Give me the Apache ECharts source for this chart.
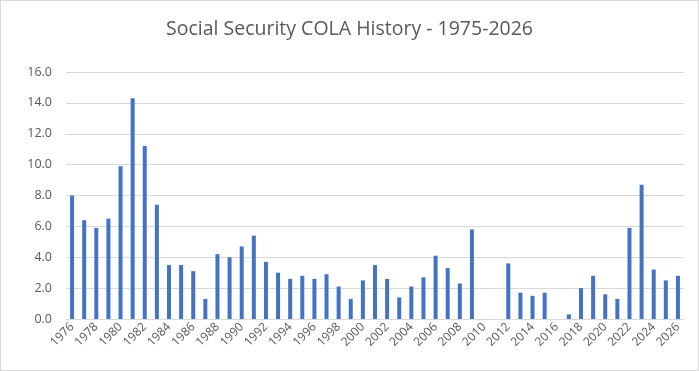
<!DOCTYPE html>
<html>
<head>
<meta charset="utf-8">
<script src="https://cdn.jsdelivr.net/npm/echarts@6/dist/echarts.min.js"></script>
<style>
  html, body { margin: 0; padding: 0; background: #fff; }
  #chart { width: 697px; height: 369px; border: 1px solid #d9d9d9; }
</style>
</head>
<body>
<div id="chart"></div>
<script>
const years = [];
for (let y = 1976; y <= 2026; y++) years.push(String(y));

const cola = [
  8.0, 6.4, 5.9, 6.5, 9.9, 14.3, 11.2, 7.4, 3.5, 3.5,
  3.1, 1.3, 4.2, 4.0, 4.7, 5.4, 3.7, 3.0, 2.6, 2.8,
  2.6, 2.9, 2.1, 1.3, 2.5, 3.5, 2.6, 1.4, 2.1, 2.7,
  4.1, 3.3, 2.3, 5.8, 0.0, 0.0, 3.6, 1.7, 1.5, 1.7,
  0.0, 0.3, 2.0, 2.8, 1.6, 1.3, 5.9, 8.7, 3.2, 2.5,
  2.8
];

const chart = echarts.init(document.getElementById('chart'));
chart.setOption({
  animation: false,
  title: {
    text: 'Social Security COLA History - 1975-2026',
    left: 'center',
    top: 13,
    textStyle: {
      fontFamily: 'Open Sans',
      fontSize: 19.5,
      fontWeight: 'normal',
      color: '#595959'
    }
  },
  grid: { left: 65, right: 14, top: 71, bottom: 51 },
  xAxis: {
    type: 'category',
    data: years,
    axisLine: { lineStyle: { color: '#d9d9d9', width: 1 } },
    axisTick: { show: false },
    axisLabel: {
      interval: 1,
      rotate: 45,
      fontFamily: 'Open Sans',
      fontSize: 12,
      color: '#595959',
      margin: 6
    }
  },
  yAxis: {
    type: 'value',
    min: 0,
    max: 16,
    interval: 2,
    axisLine: { show: false },
    axisTick: { show: false },
    splitLine: { lineStyle: { color: '#d9d9d9', width: 1 } },
    axisLabel: {
      formatter: v => v.toFixed(1),
      fontFamily: 'Open Sans',
      fontSize: 12.5,
      color: '#595959',
      margin: 14
    }
  },
  series: [{
    type: 'bar',
    data: cola,
    barWidth: 4,
    itemStyle: { color: '#4472C4' }
  }]
});
</script>
</body>
</html>
